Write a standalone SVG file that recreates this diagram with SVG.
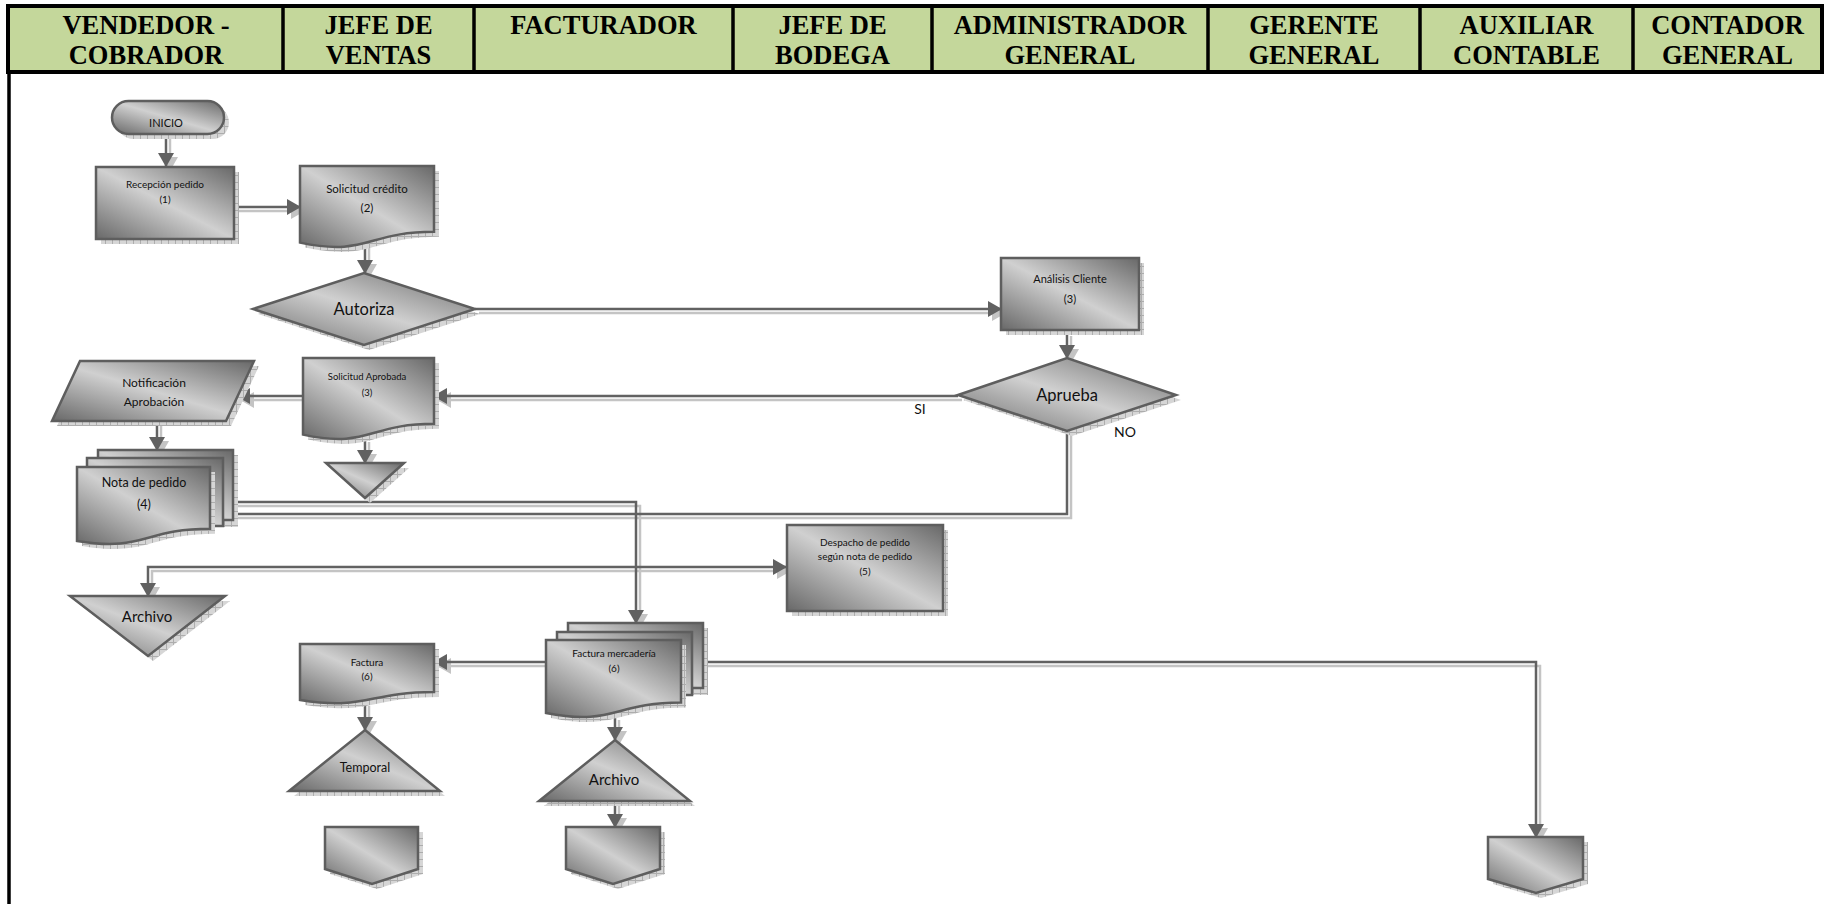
<svg xmlns="http://www.w3.org/2000/svg" width="1825" height="904" viewBox="0 0 1825 904">
<defs>
<linearGradient id="g" x1="0" y1="1" x2="1" y2="0">
<stop offset="0" stop-color="#686868"/>
<stop offset="0.5" stop-color="#d0d0d0"/>
<stop offset="1" stop-color="#686868"/>
</linearGradient>
<pattern id="hatch" width="7" height="7" patternUnits="userSpaceOnUse">
<rect width="7" height="7" fill="#d6d6d6"/>
<path d="M0 0.5H7M0.5 0V7" stroke="#adadad" stroke-width="1"/>
</pattern>
<marker id="ah" viewBox="0 0 14 16" refX="13" refY="8" markerWidth="14" markerHeight="16" markerUnits="userSpaceOnUse" orient="auto-start-reverse"><path d="M0 0L14 8L0 16Z" fill="#616161"/></marker>
<marker id="ahs" viewBox="0 0 14 16" refX="13" refY="8" markerWidth="14" markerHeight="16" markerUnits="userSpaceOnUse" orient="auto-start-reverse"><path d="M0 0L14 8L0 16Z" fill="#c4c4c4"/></marker>
</defs>
<style>
.hd{fill:#C4D79B;stroke:#000;stroke-width:4}
.hl{stroke:#000;stroke-width:3.5}
.ht{font-family:"Liberation Serif","Times New Roman",serif;font-weight:bold;font-size:26.5px;text-anchor:middle;fill:#000}
.s{fill:url(#g);stroke:#5e5e5e;stroke-width:2.5}
.sh{fill:url(#hatch)}
.t{font-family:Lato,"Liberation Sans",sans-serif;text-anchor:middle;fill:#111}
.c{fill:none;stroke:#626262;stroke-width:2.5;marker-end:url(#ah)}
.cs{fill:none;stroke:#c4c4c4;stroke-width:2.5;marker-end:url(#ahs)}
.both{marker-start:url(#ah)}
.boths{marker-start:url(#ahs)}
</style>
<rect width="1825" height="904" fill="#fff"/>

<g id="header">
<rect class="hd" x="8" y="6" width="1814" height="66"/>
<line class="hl" x1="9" y1="72" x2="9" y2="904"/>
<path class="hl" d="M283 6V72M474 6V72M733 6V72M932 6V72M1208 6V72M1420 6V72M1633 6V72"/>
<text class="ht" x="146" y="34">VENDEDOR -</text>
<text class="ht" x="146" y="64">COBRADOR</text>
<text class="ht" x="378.5" y="34">JEFE DE</text>
<text class="ht" x="378.5" y="64">VENTAS</text>
<text class="ht" x="603.5" y="34">FACTURADOR</text>
<text class="ht" x="832.5" y="34">JEFE DE</text>
<text class="ht" x="832.5" y="64">BODEGA</text>
<text class="ht" x="1070" y="34">ADMINISTRADOR</text>
<text class="ht" x="1070" y="64">GENERAL</text>
<text class="ht" x="1314" y="34">GERENTE</text>
<text class="ht" x="1314" y="64">GENERAL</text>
<text class="ht" x="1526.5" y="34">AUXILIAR</text>
<text class="ht" x="1526.5" y="64">CONTABLE</text>
<text class="ht" x="1727.5" y="34">CONTADOR</text>
<text class="ht" x="1727.5" y="64">GENERAL</text>
</g>

<g id="connectors">
<g transform="translate(4,4)">
<path class="cs" d="M166 134V166"/>
<path class="cs" d="M235 207H300"/>
<path class="cs" d="M365 242V273"/>
<path class="cs" d="M475 309H1001"/>
<path class="cs" d="M1067 332V358"/>
<path class="cs" d="M958 396H434"/>
<path class="cs" d="M303 396H237"/>
<path class="cs" d="M365 438V463"/>
<path class="cs" d="M157 421V450"/>
<path class="cs" d="M1067 431V514H210"/>
<path class="cs" d="M223 502H636V623"/>
<path class="cs boths" d="M148 596V567H786"/>
<path class="cs" d="M546 662H434"/>
<path class="cs" d="M681 662H1536V837"/>
<path class="cs" d="M365 702V730"/>
<path class="cs" d="M615 716V740"/>
<path class="cs" d="M615 801V827"/>
</g>
<path class="c" d="M166 134V166"/>
<path class="c" d="M235 207H300"/>
<path class="c" d="M365 242V273"/>
<path class="c" d="M475 309H1001"/>
<path class="c" d="M1067 332V358"/>
<path class="c" d="M958 396H434"/>
<path class="c" d="M303 396H237"/>
<path class="c" d="M365 438V463"/>
<path class="c" d="M157 421V450"/>
<path class="c" d="M1067 431V514H210"/>
<path class="c" d="M223 502H636V623"/>
<path class="c both" d="M148 596V567H786"/>
<path class="c" d="M546 662H434"/>
<path class="c" d="M681 662H1536V837"/>
<path class="c" d="M365 702V730"/>
<path class="c" d="M615 716V740"/>
<path class="c" d="M615 801V827"/>
</g>

<g id="inicio">
<rect class="sh" x="117" y="106" width="112" height="33" rx="16.5"/>
<rect class="s" x="112" y="101" width="112" height="33" rx="16.5"/>
<text class="t" x="166" y="127" font-size="11">INICIO</text>
</g>

<g id="recepcion">
<rect class="sh" x="101" y="172" width="138" height="72"/>
<rect class="s" x="96" y="167" width="138" height="72"/>
<text class="t" x="165" y="188" font-size="10">Recepción pedido</text>
<text class="t" x="165" y="203" font-size="10">(1)</text>
</g>

<g id="solicitud-credito">
<path class="sh" transform="translate(5,5)" d="M300 166H434V231.8C367 231.8 367 256.8 300 242.6Z"/>
<path class="s" d="M300 166H434V231.8C367 231.8 367 256.8 300 242.6Z"/>
<text class="t" x="367" y="193" font-size="11.5">Solicitud crédito</text>
<text class="t" x="367" y="212" font-size="11.5">(2)</text>
</g>

<g id="autoriza">
<path class="sh" transform="translate(5,5)" d="M253 309L364 273L475 309L364 345Z"/>
<path class="s" d="M253 309L364 273L475 309L364 345Z"/>
<text class="t" x="364" y="315" font-size="16.5">Autoriza</text>
</g>

<g id="analisis">
<rect class="sh" x="1006" y="263" width="138" height="72"/>
<rect class="s" x="1001" y="258" width="138" height="72"/>
<text class="t" x="1070" y="283" font-size="11">Análisis Cliente</text>
<text class="t" x="1070" y="303" font-size="11">(3)</text>
</g>

<g id="aprueba">
<path class="sh" transform="translate(5,5)" d="M958 395L1067 358L1176 395L1067 431Z"/>
<path class="s" d="M958 395L1067 358L1176 395L1067 431Z"/>
<text class="t" x="1067" y="401" font-size="16.5">Aprueba</text>
<text class="t" x="920" y="414" font-size="14">SI</text>
<text class="t" x="1125" y="437" font-size="14">NO</text>
</g>

<g id="solicitud-aprobada">
<path class="sh" transform="translate(5,5)" d="M303 358H434V423.8C368.5 423.8 368.5 448.8 303 434.6Z"/>
<path class="s" d="M303 358H434V423.8C368.5 423.8 368.5 448.8 303 434.6Z"/>
<text class="t" x="367" y="380" font-size="9.5">Solicitud Aprobada</text>
<text class="t" x="367" y="396" font-size="9.5">(3)</text>
</g>

<g id="notificacion">
<path class="sh" transform="translate(5,5)" d="M80 361H254L226 421H52Z"/>
<path class="s" d="M80 361H254L226 421H52Z"/>
<text class="t" x="154" y="387" font-size="12">Notificación</text>
<text class="t" x="154" y="406" font-size="12">Aprobación</text>
</g>

<g id="merge">
<path class="sh" transform="translate(5,5)" d="M326 463H404L365 498Z"/>
<path class="s" d="M326 463H404L365 498Z"/>
</g>

<g id="nota-pedido">
<rect class="sh" x="103" y="455" width="135" height="72"/>
<rect class="s" x="98" y="450" width="135" height="70"/>
<rect class="s" x="87" y="458" width="136" height="68"/>
<path class="sh" transform="translate(5,5)" d="M77 467H210V528.8C143.5 528.8 143.5 552.3 77 541Z"/>
<path class="s" d="M77 467H210V528.8C143.5 528.8 143.5 552.3 77 541Z"/>
<text class="t" x="144" y="487" font-size="12.5">Nota de pedido</text>
<text class="t" x="144" y="509" font-size="12.5">(4)</text>
</g>

<g id="despacho">
<rect class="sh" x="792" y="530" width="156" height="86"/>
<rect class="s" x="787" y="525" width="156" height="86"/>
<text class="t" x="865" y="546" font-size="10">Despacho de pedido</text>
<text class="t" x="865" y="560" font-size="10">según nota de pedido</text>
<text class="t" x="865" y="575" font-size="10">(5)</text>
</g>

<g id="archivo-1">
<path class="sh" transform="translate(5,5)" d="M70 596H225L148 656Z"/>
<path class="s" d="M70 596H225L148 656Z"/>
<text class="t" x="147" y="622" font-size="15">Archivo</text>
</g>

<g id="factura-mercaderia">
<rect class="sh" x="573" y="628" width="135" height="67"/>
<rect class="s" x="568" y="623" width="135" height="65"/>
<rect class="s" x="557" y="632" width="135" height="63"/>
<path class="sh" transform="translate(5,5)" d="M546 640H681V702.6C613.5 702.6 613.5 726.4 546 712.9Z"/>
<path class="s" d="M546 640H681V702.6C613.5 702.6 613.5 726.4 546 712.9Z"/>
<text class="t" x="614" y="657" font-size="10">Factura mercadería</text>
<text class="t" x="614" y="672" font-size="10">(6)</text>
</g>

<g id="factura">
<path class="sh" transform="translate(5,5)" d="M300 644H434V692.1C367 692.1 367 710.5 300 700Z"/>
<path class="s" d="M300 644H434V692.1C367 692.1 367 710.5 300 700Z"/>
<text class="t" x="367" y="666" font-size="10">Factura</text>
<text class="t" x="367" y="680" font-size="10">(6)</text>
</g>

<g id="temporal">
<path class="sh" transform="translate(5,5)" d="M365 730L440 791H289Z"/>
<path class="s" d="M365 730L440 791H289Z"/>
<text class="t" x="365" y="772" font-size="12.5">Temporal</text>
</g>

<g id="archivo-2">
<path class="sh" transform="translate(5,5)" d="M615 740L690 801H539Z"/>
<path class="s" d="M615 740L690 801H539Z"/>
<text class="t" x="614" y="785" font-size="15">Archivo</text>
</g>

<g id="conector-1">
<path class="sh" transform="translate(5,5)" d="M325 827H418V869L372 884L325 869Z"/>
<path class="s" d="M325 827H418V869L372 884L325 869Z"/>
</g>

<g id="conector-2">
<path class="sh" transform="translate(5,5)" d="M566 827H660V869L613 884L566 869Z"/>
<path class="s" d="M566 827H660V869L613 884L566 869Z"/>
</g>

<g id="conector-3">
<path class="sh" transform="translate(5,5)" d="M1488 837H1583V879L1536 893L1488 879Z"/>
<path class="s" d="M1488 837H1583V879L1536 893L1488 879Z"/>
</g>
</svg>
